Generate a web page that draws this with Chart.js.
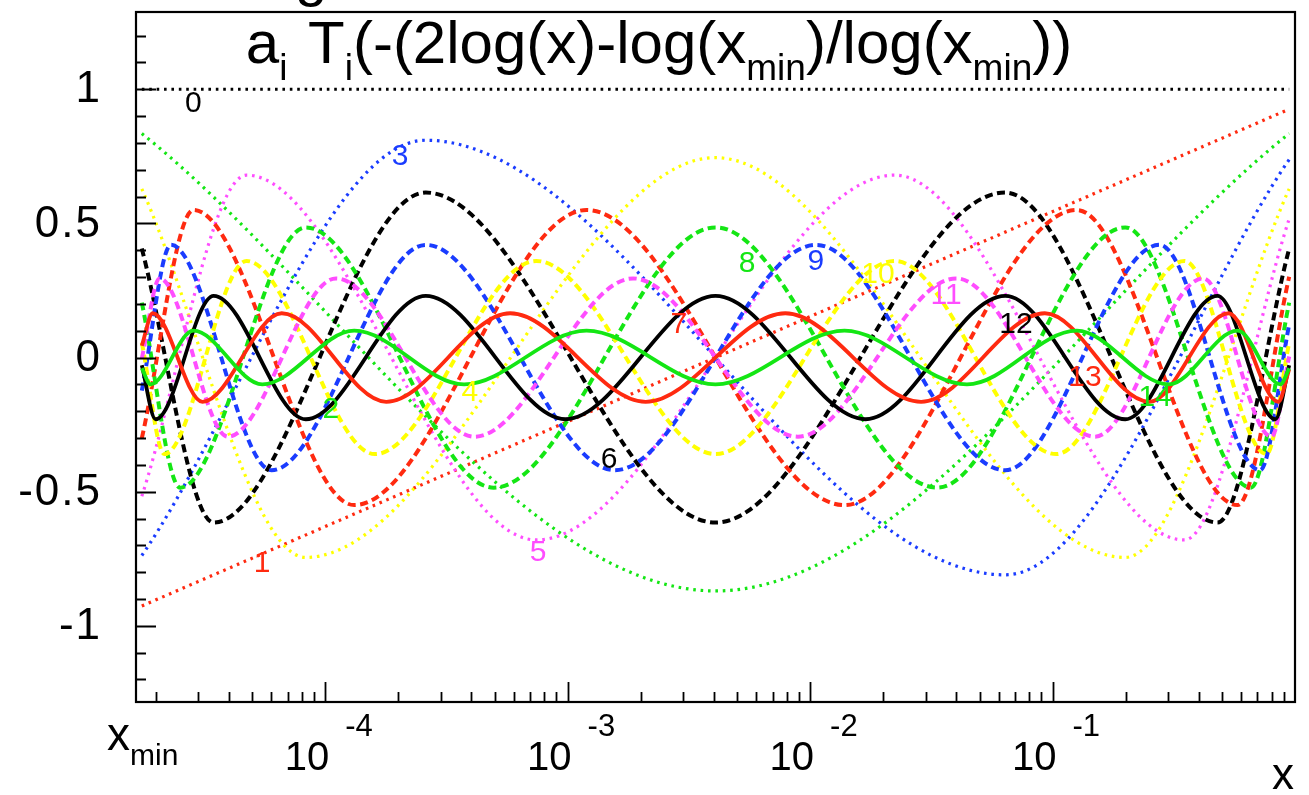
<!DOCTYPE html>
<html>
<head>
<meta charset="utf-8">
<script src="https://cdn.jsdelivr.net/npm/chart.js@4.4.1/dist/chart.umd.min.js"></script>
<style>
  html, body { margin: 0; padding: 0; background: #fff; }
</style>
</head>
<body>
<canvas id="chart" width="1309" height="795"></canvas>
<script>
// x values are log10(x), the plot runs from log10(x_min) up to x = 1
const xMinLog = -4.78;
const xMaxLog = 0;
const yMin = -1.284;
const yMax = 1.288;

const decadeTicks = [-4, -3, -2, -1];
const decadeLabels = ['-4', '-3', '-2', '-1'];
const yTickValues = [-1, -0.5, 0, 0.5, 1];
const yTickLabels = ['-1', '-0.5', '0', '0.5', '1'];

// a_i T_i : both ends of the drawn range and every turning point in between
const t0x = [-4.756, -0.024];
const t0y = [1, 1];
const t1x = [-4.756, -0.024];
const t1y = [-0.926, 0.926];
const t2x = [-4.756, -2.39, -0.024];
const t2y = [0.835, -0.87, 0.835];
const t3x = [-4.756, -3.585, -1.195, -0.024];
const t3y = [-0.738, 0.81, -0.81, 0.738];
const t4x = [-4.756, -4.080, -2.39, -0.700, -0.024];
const t4y = [0.629, -0.745, 0.745, -0.745, 0.629];
const t5x = [-4.756, -4.324, -3.129, -1.651, -0.456, -0.024];
const t5y = [-0.517, 0.68, -0.68, 0.68, -0.68, 0.517];
const t6x = [-4.756, -4.460, -3.585, -2.39, -1.195, -0.320, -0.024];
const t6y = [0.406, -0.615, 0.615, -0.615, 0.615, -0.615, 0.406];
const t7x = [-4.756, -4.543, -3.880, -2.922, -1.858, -0.900, -0.237, -0.024];
const t7y = [-0.301, 0.55, -0.55, 0.55, -0.55, 0.55, -0.55, 0.301];
const t8x = [-4.756, -4.598, -4.080, -3.305, -2.39, -1.475, -0.700, -0.182, -0.024];
const t8y = [0.205, -0.485, 0.485, -0.485, 0.485, -0.485, 0.485, -0.485, 0.205];
const t9x = [-4.756, -4.636, -4.221, -3.585, -2.805, -1.975, -1.195, -0.559, -0.144, -0.024];
const t9y = [-0.123, 0.42, -0.42, 0.42, -0.42, 0.42, -0.42, 0.42, -0.42, 0.123];
const t10x = [-4.756, -4.663, -4.324, -3.795, -3.129, -2.39, -1.651, -0.985, -0.456, -0.117, -0.024];
const t10y = [0.056, -0.36, 0.36, -0.36, 0.36, -0.36, 0.36, -0.36, 0.36, -0.36, 0.056];
const t11x = [-4.756, -4.683, -4.401, -3.955, -3.383, -2.730, -2.050, -1.397, -0.825, -0.379, -0.097, -0.024];
const t11y = [-0.004, 0.295, -0.295, 0.295, -0.295, 0.295, -0.295, 0.295, -0.295, 0.295, -0.295, 0.004];
const t12x = [-4.756, -4.699, -4.460, -4.080, -3.585, -3.009, -2.39, -1.771, -1.195, -0.700, -0.320, -0.081, -0.024];
const t12y = [-0.029, -0.23, 0.23, -0.23, 0.23, -0.23, 0.23, -0.23, 0.23, -0.23, 0.23, -0.23, -0.029];
const t13x = [-4.756, -4.711, -4.506, -4.179, -3.748, -3.237, -2.678, -2.102, -1.542, -1.032, -0.601, -0.274, -0.069, -0.024];
const t13y = [0.044, 0.165, -0.165, 0.165, -0.165, 0.165, -0.165, 0.165, -0.165, 0.165, -0.165, 0.165, -0.165, -0.044];
const t14x = [-4.756, -4.720, -4.543, -4.259, -3.880, -3.427, -2.922, -2.39, -1.858, -1.353, -0.900, -0.521, -0.237, -0.060, -0.024];
const t14y = [-0.040, -0.10, 0.10, -0.10, 0.10, -0.10, 0.10, -0.10, 0.10, -0.10, 0.10, -0.10, 0.10, -0.10, -0.040];

const curvesX = [t0x, t1x, t2x, t3x, t4x, t5x, t6x, t7x, t8x, t9x, t10x, t11x, t12x, t13x, t14x];
const curvesY = [t0y, t1y, t2y, t3y, t4y, t5y, t6y, t7y, t8y, t9y, t10y, t11y, t12y, t13y, t14y];

// number written next to each curve (centre of the text)
const labelText = ['0', '1', '2', '3', '4', '5', '6', '7', '8', '9', '10', '11', '12', '13', '14'];
const labelX = [-4.543, -4.260, -3.976, -3.691, -3.403, -3.122, -2.829, -2.541, -2.260, -1.976, -1.720, -1.439, -1.151, -0.866, -0.577];
const labelY = [0.946, -0.767, -0.196, 0.748, -0.132, -0.726, -0.382, 0.121, 0.349, 0.356, 0.308, 0.229, 0.121, -0.076, -0.151];

const palette = ['#000000', '#ff2a10', '#14e614', '#1a3cff', '#ffff00', '#ff4dff'];
const FONT = '"Liberation Sans", Arial, Helvetica, sans-serif';

function styleFor(i) {
    const kind = Math.floor(i / 6);
    if (kind === 0) return { dash: [2.6, 4.8], width: 3.2 };
    if (kind === 1) return { dash: [8, 4.5], width: 4 };
    return { dash: [], width: 3.8 };
}

const datasets = curvesX.map((xs, i) => {
    const st = styleFor(i);
    return {
        label: 'T' + i,
        data: xs.map((x, k) => ({ x: x, y: curvesY[i][k] })),
        borderColor: palette[i % 6],
        borderWidth: st.width,
        borderDash: st.dash,
        cubicInterpolationMode: 'monotone',
        pointRadius: 0,
        fill: false,
        order: 14 - i
    };
});

// draws a run of text pieces, each with its own size and vertical shift
function drawRich(ctx, parts, x, y, measureOnly) {
    let cx = x;
    parts.forEach(p => {
        ctx.font = p.size + 'px ' + FONT;
        if (!measureOnly) ctx.fillText(p.t, cx, y + (p.dy || 0));
        cx += ctx.measureText(p.t).width + (p.gap || 0);
    });
    return cx - x;
}

const rootFrame = {
    id: 'rootFrame',
    afterDatasetsDraw(chart) {
        const ctx = chart.ctx;
        const xs = chart.scales.x;
        const ys = chart.scales.y;
        const a = chart.chartArea;
        ctx.save();

        // curve numbers
        ctx.textAlign = 'center';
        ctx.textBaseline = 'middle';
        ctx.font = '30px ' + FONT;
        labelText.forEach((t, i) => {
            ctx.fillStyle = palette[i % 6];
            ctx.fillText(t, xs.getPixelForValue(labelX[i]), ys.getPixelForValue(labelY[i]));
        });

        // frame
        ctx.strokeStyle = '#000';
        ctx.lineWidth = 2.2;
        ctx.strokeRect(a.left, a.top, a.right - a.left, a.bottom - a.top);

        // y ticks
        ctx.lineWidth = 1.8;
        ctx.beginPath();
        for (let k = -12; k <= 12; k++) {
            const v = k / 10;
            const py = Math.round(ys.getPixelForValue(v)) + 0.5;
            const len = (k % 5 === 0) ? 20 : 10;
            ctx.moveTo(a.left, py);
            ctx.lineTo(a.left + len, py);
        }
        // x ticks, log spaced
        for (let d = -5; d <= -1; d++) {
            for (let m = 1; m <= 9; m++) {
                const v = d + Math.log10(m);
                if (v <= xMinLog || v >= xMaxLog) continue;
                const px = Math.round(xs.getPixelForValue(v)) + 0.5;
                const len = (m === 1) ? 20 : 10;
                ctx.moveTo(px, a.bottom);
                ctx.lineTo(px, a.bottom - len);
            }
        }
        ctx.stroke();

        ctx.fillStyle = '#000';
        // y labels
        ctx.font = '44px ' + FONT;
        ctx.letterSpacing = '2px';
        ctx.textAlign = 'right';
        ctx.textBaseline = 'middle';
        yTickValues.forEach((v, i) => {
            ctx.fillText(yTickLabels[i], 102, ys.getPixelForValue(v) + 1);
        });
        ctx.letterSpacing = '0px';

        // x labels 10^n
        ctx.textAlign = 'left';
        ctx.textBaseline = 'alphabetic';
        decadeTicks.forEach((v, i) => {
            const px = xs.getPixelForValue(v);
            ctx.font = '40px ' + FONT;
            const w = ctx.measureText('10').width;
            ctx.fillText('10', px + 4 - w, 770);
            ctx.font = '31px ' + FONT;
            ctx.fillText(decadeLabels[i], px + 20, 736);
        });

        // x_min under the left edge
        drawRich(ctx, [{ t: 'x', size: 46 }, { t: 'min', size: 30, dy: 15 }], 107, 750);

        // axis title
        ctx.font = '44px ' + FONT;
        ctx.textAlign = 'right';
        ctx.fillText('x', 1294, 789);

        // title
        ctx.textAlign = 'left';
        const title = [
            { t: 'a', size: 60 }, { t: 'i', size: 37, dy: 17, gap: 4 },
            { t: ' T', size: 60 }, { t: 'i', size: 37, dy: 17 },
            { t: '(-(2log(x)-log(x', size: 60 }, { t: 'min', size: 37, dy: 17 },
            { t: ')/log(x', size: 60 }, { t: 'min', size: 37, dy: 17 },
            { t: '))', size: 60 }
        ];
        const tw = drawRich(ctx, title, 0, 0, true);
        drawRich(ctx, title, 659 - tw / 2, 63);

        // descender of a line cut off above the canvas
        ctx.font = '58px ' + FONT;
        ctx.fillText('g', 295, -5);

        ctx.restore();
    }
};

new Chart(document.getElementById('chart'), {
    type: 'line',
    data: { datasets: datasets },
    options: {
        responsive: false,
        animation: false,
        layout: { padding: { left: 136, right: 14, top: 12, bottom: 93 } },
        scales: {
            x: { type: 'linear', min: xMinLog, max: xMaxLog, display: false },
            y: { type: 'linear', min: yMin, max: yMax, display: false }
        },
        plugins: { legend: { display: false }, tooltip: { enabled: false } },
        elements: { line: { tension: 0 } }
    },
    plugins: [rootFrame]
});
</script>
</body>
</html>
